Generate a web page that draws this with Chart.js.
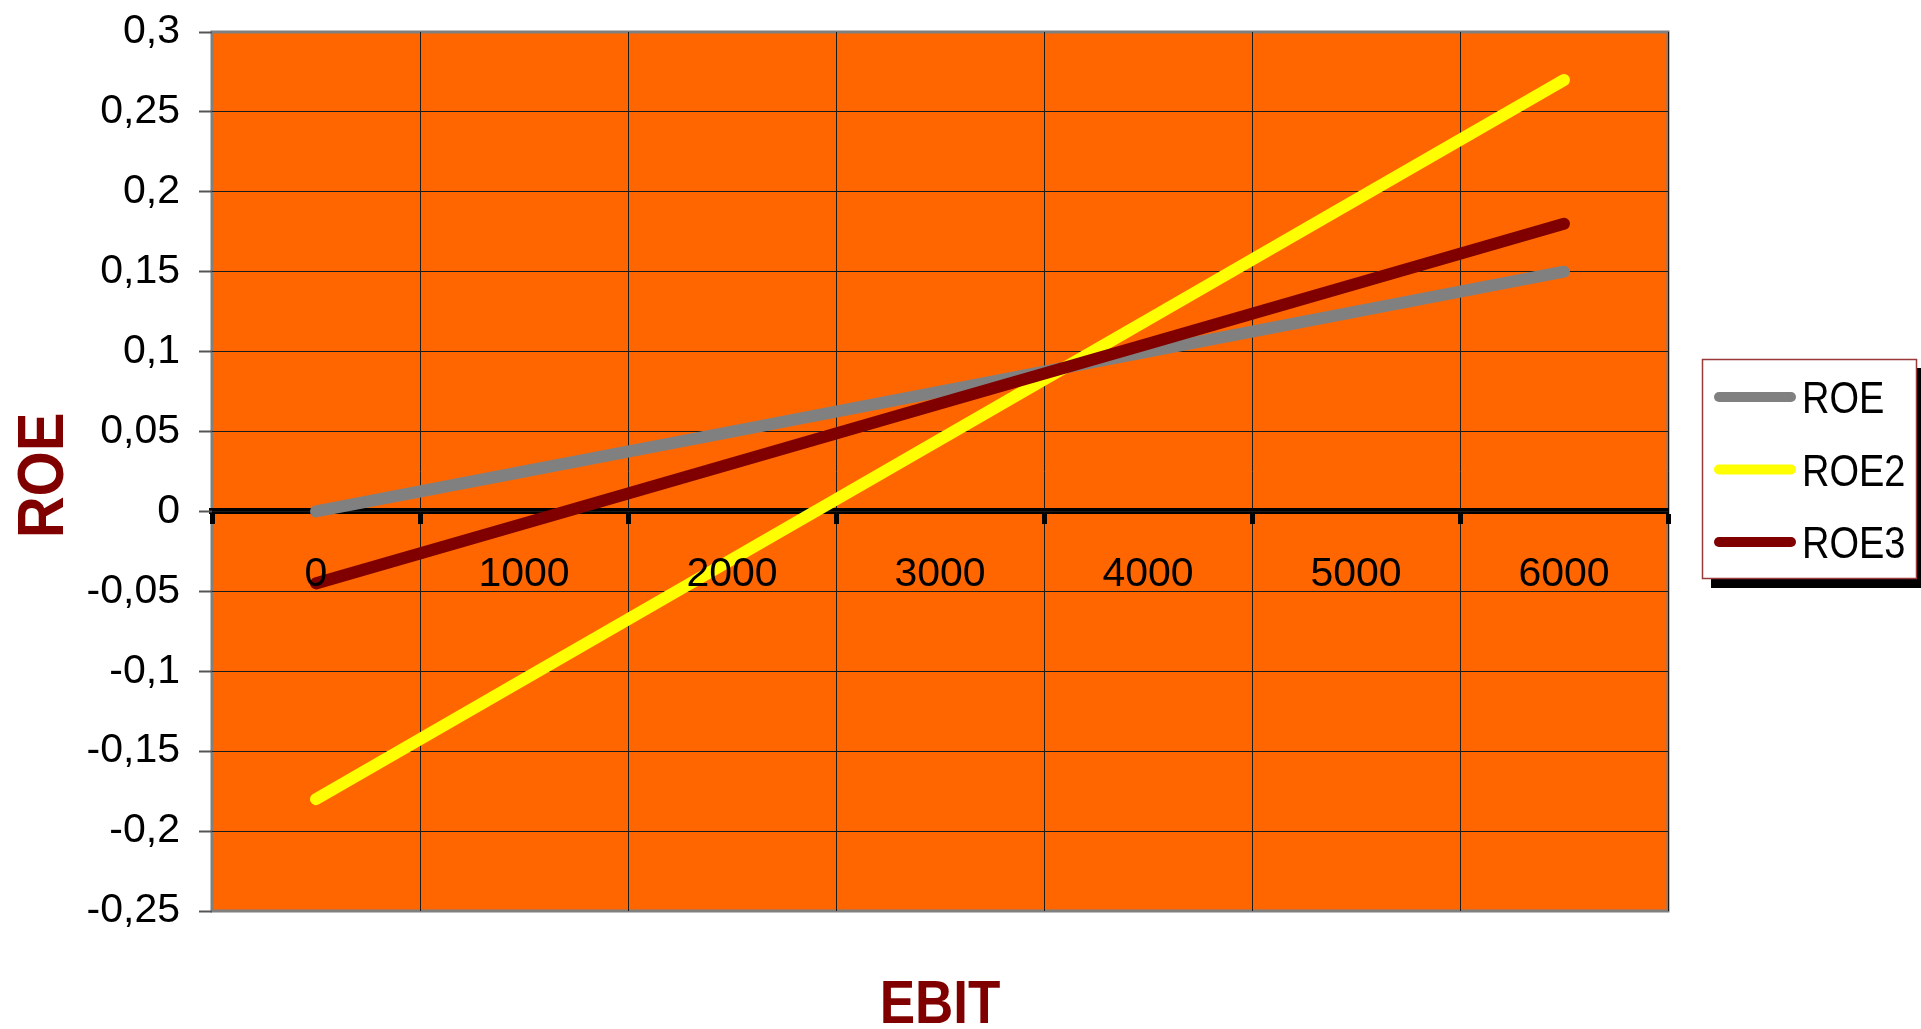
<!DOCTYPE html>
<html>
<head>
<meta charset="utf-8">
<title>ROE vs EBIT</title>
<script src="https://cdn.jsdelivr.net/npm/chart.js@4.4.1/dist/chart.umd.min.js"></script>
<style>
  html, body { margin: 0; padding: 0; background: #ffffff; overflow: hidden; }
  canvas { display: block; }
</style>
</head>
<body>
<canvas id="roeChart" width="1921" height="1029"></canvas>
<script>
// EBIT levels on the category axis
const ebit = ['0', '1000', '2000', '3000', '4000', '5000', '6000'];

// Return on equity for the three financing structures
const roe  = [0, 0.025, 0.05, 0.075, 0.1, 0.125, 0.15];
const roe2 = [-0.18, -0.105, -0.03, 0.045, 0.12, 0.195, 0.27];
const roe3 = [-0.045, -0.0075, 0.03, 0.0675, 0.105, 0.1425, 0.18];

const seriesNames  = ['ROE', 'ROE2', 'ROE3'];
const seriesColors = ['#808080', '#FFFF00', '#800000'];

// Value axis range
const yMin = -0.25, yMax = 0.3, yStep = 0.05;

const xTitle = 'EBIT';
const yTitle = 'ROE';

const FONT = '"Liberation Sans", Arial, Helvetica, sans-serif';
const TITLE_COLOR = '#800000';

// decimal comma labels: 0,25 / -0,1 / 0
const fmtTick = v => String(Math.round(v * 100) / 100).replace('.', ',');

// text drawn with a slight vertical stretch, baseline at (x, y)
function stretchedText(ctx, text, x, y, font, color, sy, rot, align) {
  ctx.save();
  ctx.translate(x, y);
  if (rot) ctx.rotate(rot);
  ctx.scale(1, sy);
  ctx.font = font;
  ctx.fillStyle = color;
  ctx.textAlign = align || 'center';
  ctx.textBaseline = 'alphabetic';
  ctx.fillText(text, 0, 0);
  ctx.restore();
}

// orange plot area with a grey frame
const plotArea = {
  id: 'plotArea',
  beforeDraw(chart) {
    const { ctx, chartArea: a } = chart;
    ctx.save();
    ctx.fillStyle = '#FF6600';
    ctx.fillRect(a.left, a.top, a.width, a.height);
    ctx.strokeStyle = '#808080';
    ctx.lineWidth = 3;
    ctx.strokeRect(a.left, a.top, a.width, a.height);
    ctx.restore();
  }
};

// axis titles and the framed legend with drop shadow
const annotations = {
  id: 'annotations',
  afterDraw(chart) {
    const { ctx, chartArea: a } = chart;

    stretchedText(ctx, xTitle, (a.left + a.right) / 2, 1023,
      'bold 53px ' + FONT, TITLE_COLOR, 1.16);
    stretchedText(ctx, yTitle, 63, (a.top + a.bottom) / 2 + 4,
      'bold 58px ' + FONT, TITLE_COLOR, 1.13, -Math.PI / 2);

    const box = { x: a.right + 34, y: 359, w: 215, h: 220 };
    ctx.save();
    ctx.fillStyle = '#000000';
    ctx.fillRect(box.x + 9, box.y + 9, box.w, box.h);
    ctx.fillStyle = '#ffffff';
    ctx.fillRect(box.x, box.y, box.w, box.h);
    ctx.strokeStyle = '#9B3A3A';
    ctx.lineWidth = 1.5;
    ctx.strokeRect(box.x + 0.5, box.y + 0.5, box.w - 1, box.h - 1);

    chart.data.datasets.forEach((ds, i) => {
      const cy = 397 + i * 72.5;
      ctx.beginPath();
      ctx.strokeStyle = ds.borderColor;
      ctx.lineWidth = 10;
      ctx.lineCap = 'round';
      ctx.moveTo(box.x + 17, cy);
      ctx.lineTo(box.x + 89, cy);
      ctx.stroke();
      stretchedText(ctx, ds.label, box.x + 100, cy + 16,
        '38px ' + FONT, '#000000', 1.17, 0, 'left');
    });
    ctx.restore();
  }
};

const seriesData = [roe, roe2, roe3];
const datasets = seriesNames.map((name, i) => ({
  label: name,
  data: seriesData[i],
  borderColor: seriesColors[i],
  backgroundColor: seriesColors[i],
  borderWidth: 12,
  order: seriesNames.length - i
}));

new Chart(document.getElementById('roeChart'), {
  type: 'line',
  data: { labels: ebit, datasets },
  options: {
    responsive: false,
    animation: false,
    devicePixelRatio: 1,
    layout: { padding: { top: 32, right: 253, bottom: 118, left: 0 } },
    plugins: {
      legend: { display: false },
      tooltip: { enabled: false }
    },
    elements: {
      line: { tension: 0, borderCapStyle: 'round', borderJoinStyle: 'round', fill: false },
      point: { radius: 0, hoverRadius: 0 }
    },
    scales: {
      x: {
        type: 'category',
        position: { y: 0 },
        offset: true,
        afterFit: s => { s.paddingLeft = 0; s.paddingRight = 0; },
        grid: {
          offset: true,
          color: c => (c.index === 0 || c.index === ebit.length) ? 'rgba(0,0,0,0)' : '#1a1a1a',
          lineWidth: 1,
          tickLength: 10,
          tickWidth: 5,
          tickColor: '#000000'
        },
        border: { display: true, color: '#000000', width: 6, z: -1 },
        ticks: {
          color: '#000000',
          font: { family: FONT, size: 41 },
          padding: 29,
          maxRotation: 0,
          autoSkip: false,
          z: 1
        }
      },
      y: {
        position: 'left',
        min: yMin,
        max: yMax,
        afterFit: s => { s.width = 212; s.paddingTop = 0; s.paddingBottom = 0; },
        grid: {
          color: c => (c.tick && (Math.abs(c.tick.value - yMin) < 1e-9 || Math.abs(c.tick.value - yMax) < 1e-9))
            ? 'rgba(0,0,0,0)' : '#1a1a1a',
          lineWidth: 1,
          tickLength: 13,
          tickWidth: 2,
          tickColor: '#555555'
        },
        border: { display: false },
        ticks: {
          stepSize: yStep,
          color: '#000000',
          font: { family: FONT, size: 41 },
          padding: 19,
          callback: v => fmtTick(v)
        }
      }
    }
  },
  plugins: [plotArea, annotations]
});
</script>
</body>
</html>
